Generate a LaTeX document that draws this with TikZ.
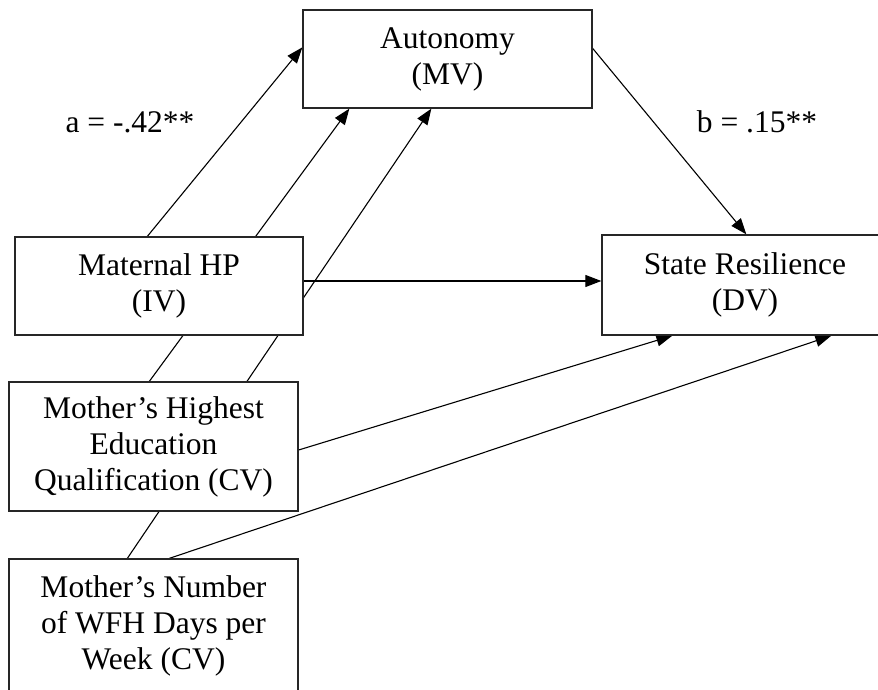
\documentclass[tikz,border=0pt]{standalone}
\usepackage{fontspec}
\setmainfont{Liberation Serif}
\usetikzlibrary{arrows.meta,backgrounds}
\begin{document}
\begin{tikzpicture}[x=1pt,y=-1pt,
  varbox/.style={draw=black!85,line width=1.3pt,fill=white,inner sep=0pt,align=center,
    font=\fontsize{31.5}{36}\selectfont,execute at begin node={\rule{0pt}{31pt}}},
  conn/.style={line width=1.1pt,-{Triangle[length=16pt,width=12pt]}},
  coef/.style={inner sep=0pt,font=\fontsize{31.5}{36}\selectfont}]
\useasboundingbox (0,0) rectangle (878,690);
\node[varbox,minimum width=289pt,minimum height=98pt] (aut) at (447.5,59) {Autonomy\\(MV)};
\node[varbox,minimum width=288pt,minimum height=98pt] (mhp) at (159,286) {Maternal HP\\(IV)};
\node[varbox,minimum width=286pt,minimum height=100pt] (sr) at (745,285) {State Resilience\\(DV)};
\node[varbox,minimum width=289pt,minimum height=129pt] (mhq) at (153.5,446.5) {Mother’s Highest\\Education\\Qualification (CV)};
\node[varbox,minimum width=289pt,minimum height=134pt] (mnw) at (153.5,626) {Mother’s Number\\of WFH Days per\\Week (CV)};
\node[coef] (la) at (130,122) {a = -.42**};
\node[coef] (lb) at (757,122) {b = .15**};
\begin{pgfonlayer}{background}
\draw[conn] ([xshift=133pt]mhp.north west) -- ([yshift=-38pt]aut.north west);
\draw[conn] ([xshift=141pt]mhq.north west) -- ([xshift=47pt]aut.south west);
\draw[conn] ([xshift=119pt]mnw.north west) -- ([xshift=129pt]aut.south west);
\draw[conn] ([yshift=5pt]mhp.east) -- ([yshift=5pt]mhp.east -| sr.west);
\draw[conn] ([yshift=-39pt]aut.north east) -- ([xshift=145pt]sr.north west);
\draw[conn] ([yshift=-3.5pt]mhq.east) -- ([xshift=71pt]sr.south west);
\draw[conn] ([xshift=161pt]mnw.north west) -- ([xshift=230pt]sr.south west);
\end{pgfonlayer}
\end{tikzpicture}
\end{document}
